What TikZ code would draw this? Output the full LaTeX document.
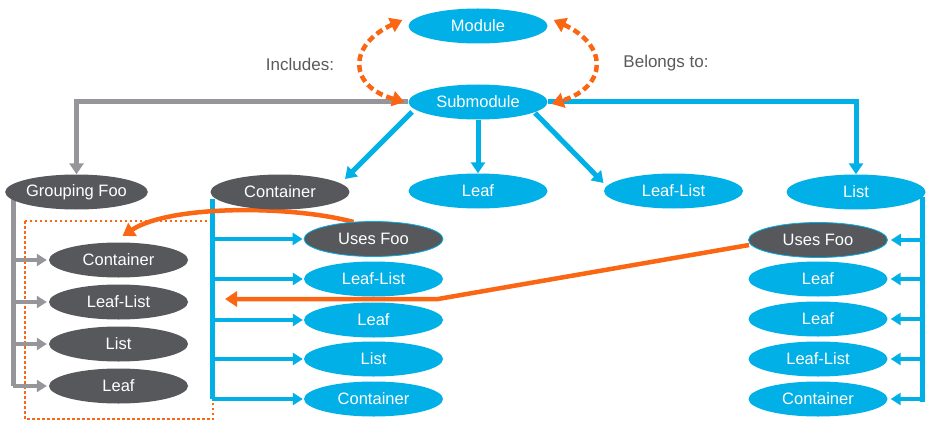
\documentclass[tikz,border=0pt]{standalone}
\usepackage{fontspec}
\setmainfont{Liberation Sans}
\usetikzlibrary{shapes.geometric,arrows.meta,backgrounds}
\definecolor{cblue}{RGB}{0,176,230}
\definecolor{cdark}{RGB}{87,88,92}
\definecolor{cgray}{RGB}{150,150,154}
\definecolor{corange}{RGB}{250,102,20}
\definecolor{ctext}{RGB}{90,90,90}
\begin{document}
\begin{tikzpicture}[x=1pt,y=-1pt,
 ell/.style={ellipse,minimum width=139pt,minimum height=35pt,inner sep=0pt,text=white,font=\fontsize{16.5}{19}\selectfont},
 bell/.style={ell,fill=cblue},
 dell/.style={ell,fill=cdark},
 uell/.style={ell,fill=cdark,draw=cblue,line width=0.8pt},
 bline/.style={draw=cblue,line width=5pt,-{Triangle[width=14pt,length=11pt]}},
 bbranch/.style={draw=cblue,line width=4pt,-{Triangle[width=12pt,length=10pt]}},
 bvert/.style={draw=cblue,line width=5pt},
 gline/.style={draw=cgray,line width=5pt,-{Triangle[width=14pt,length=11pt]}},
 gbranch/.style={draw=cgray,line width=4pt,-{Triangle[width=12pt,length=10pt]}},
 gvert/.style={draw=cgray,line width=5pt},
 oline/.style={draw=corange,line width=4.5pt,-{Triangle[width=15pt,length=12pt]}},
 odash/.style={draw=corange,line width=4.5pt,dash pattern=on 7pt off 4pt,{Triangle[width=15pt,length=12pt]}-{Triangle[width=15pt,length=12pt]}},
 lbl/.style={text=ctext,font=\fontsize{17}{20}\selectfont}
]
\useasboundingbox (0,0) rectangle (936,433);

% top
\node[bell] (mod) at (478,26) {Module};
\node[bell] (sub) at (478,102) {Submodule};
\node[lbl] (inc) at (300,64) {Includes:};
\node[lbl] (bel) at (666,63) {Belongs to:};

% second row
\node[dell] (gf) at (76.5,192) {Grouping Foo};
\node[dell] (cont) at (280,192) {Container};
\node[bell] (leaf) at (478,191) {Leaf};
\node[bell] (ll) at (673.5,191) {Leaf-List};
\node[bell] (list) at (856,192) {List};

% left column
\node[dell] (l1) at (118.5,260) {Container};
\node[dell] (l2) at (118.5,302) {Leaf-List};
\node[dell] (l3) at (118.5,344) {List};
\node[dell] (l4) at (118.5,386) {Leaf};

% middle column
\node[uell] (m1) at (373.5,239) {Uses Foo};
\node[bell] (m2) at (373.5,279) {Leaf-List};
\node[bell] (m3) at (373.5,320) {Leaf};
\node[bell] (m4) at (373.5,359) {List};
\node[bell] (m5) at (373.5,399) {Container};

% right column
\node[uell] (r1) at (818,240) {Uses Foo};
\node[bell] (r2) at (818,279) {Leaf};
\node[bell] (r3) at (818,319) {Leaf};
\node[bell] (r4) at (818,359) {Leaf-List};
\node[bell] (r5) at (818,399) {Container};

\coordinate (gstart) at ([shift={(-63.5,6)}]gf.center);
\coordinate (cstart) at ([shift={(-68,7)}]cont.center);
\coordinate (lstart) at ([shift={(66,5)}]list.center);
\coordinate (bend) at (438,299);
\coordinate (tip) at (225,299);

\begin{scope}[on background layer]
% dotted frame
\draw[corange,line width=2.5pt,dash pattern=on 2.5pt off 2.5pt] (25,221) rectangle (213,419);
% submodule connectors
\draw[gline] (sub.west) -| (gf.north);
\draw[bline] (sub.east) -| (list.north);
\draw[bline] ([shift={(-66,10)}]sub.center) -- ([shift={(65,-13)}]cont.center);
\draw[bline] (sub.south) -- (leaf.north);
\draw[bline] ([shift={(57,11)}]sub.center) -- ([shift={(-70,-8)}]ll.center);
% grouping branches
\draw[gvert] (gstart) -- (gstart |- l4.west);
\foreach \n in {l1,l2,l3,l4}
  \draw[gbranch,shorten >=2pt] (gstart |- \n.west) -- (\n.west);
% container branches
\draw[bvert] (cstart) -- (cstart |- m5.west);
\foreach \n in {m1,m2,m3,m4,m5}
  \draw[bbranch,shorten >=1pt] (cstart |- \n.west) -- (\n.west);
% list branches
\draw[bvert] (lstart) -- ([yshift=-3pt]lstart |- r5.east);
\foreach \n in {r1,r2,r3,r4,r5}
  \draw[bbranch,shorten >=3pt] (lstart |- \n.east) -- (\n.east);
% dashed include/belongs arrows
\draw[odash] ([shift={(-6,-6)}]mod.west) .. controls (348,45) and (348,86) .. ([shift={(-4,0)}]sub.west);
\draw[odash] ([shift={(6,-6)}]mod.east) .. controls (608,45) and (608,86) .. ([shift={(4,2)}]sub.east);
% orange uses arrows
\draw[oline] ([shift={(-20,-17)}]m1.center) .. controls (290,205) and (170,205) .. ([shift={(4,-24)}]l1.center);
\draw[oline] ([shift={(-69,5)}]r1.center) -- (bend) -- (tip);
\end{scope}
\end{tikzpicture}
\end{document}
